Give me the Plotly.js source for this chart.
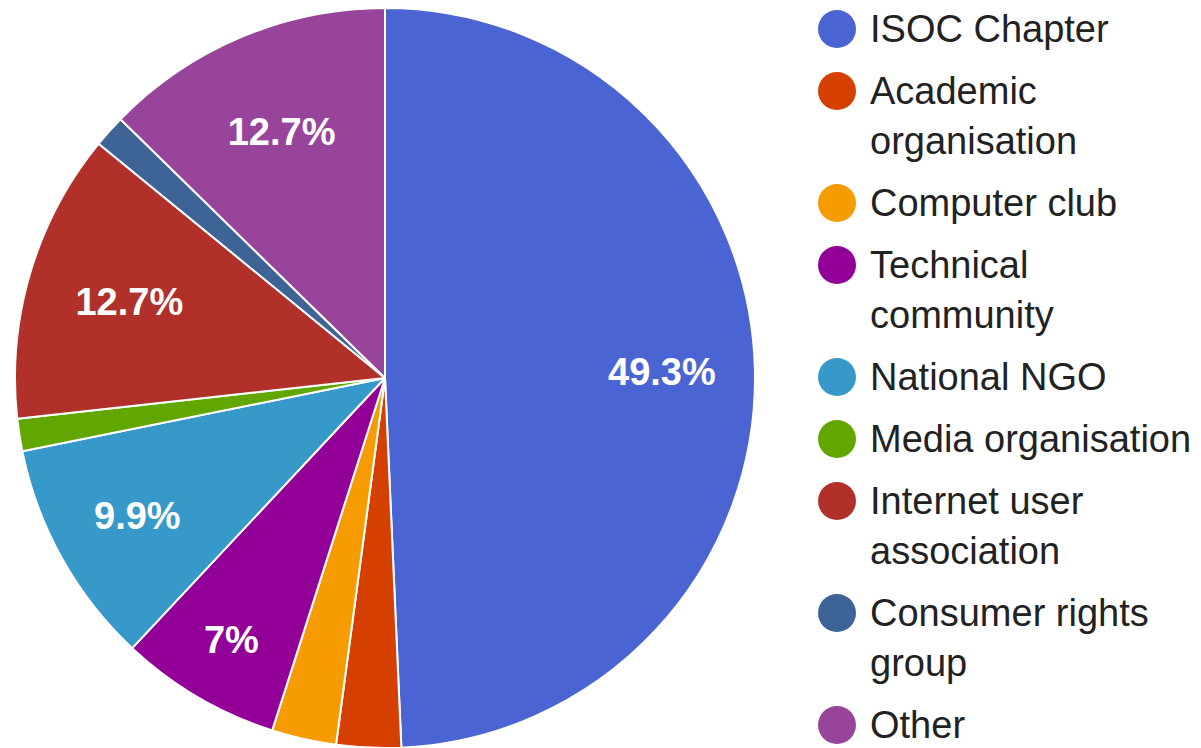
<!DOCTYPE html>
<html>
<head>
<meta charset="utf-8">
<script src="https://cdn.plot.ly/plotly-3.0.1.min.js"></script>
<style>html,body{margin:0;padding:0;background:#fff;}#chart{width:1201px;height:748px;}</style>
</head>
<body>
<div id="chart"></div>
<script>
var categories = ["ISOC Chapter", "Academic organisation", "Computer club", "Technical community", "National NGO", "Media organisation", "Internet user association", "Consumer rights group", "Other"];
var legendLines = [["ISOC Chapter"], ["Academic", "organisation"], ["Computer club"], ["Technical", "community"], ["National NGO"], ["Media organisation"], ["Internet user", "association"], ["Consumer rights", "group"], ["Other"]];
var counts = [35, 2, 2, 5, 7, 1, 9, 1, 9];
var colors = ["#4a65d3", "#d53f00", "#f69b00", "#930097", "#3699c9", "#62a700", "#b1312a", "#3d6397", "#98449b"];

var W = 1201, H = 748;
var PCX = 385, PCY = 378, PR = 370;
var FONT = "Liberation Sans, Arial, sans-serif";
var total = counts.reduce(function(a, b){ return a + b; }, 0);
var labelText = counts.map(function(v){
  var p = Math.round(v / total * 1000) / 10;
  if (p < 5) return "";
  return (p % 1 === 0 ? p.toFixed(0) : p.toFixed(1)) + "%";
});

var annotations = [];
// very large slices: place the label further out (as the reference does)
var cum = 0;
var texts = counts.map(function(v, i){
  var mid = (cum + v / 2) / total * 2 * Math.PI;
  cum += v;
  if (v / total > 0.4 && labelText[i]) {
    var rr = 0.75 * PR;
    annotations.push({
      xref: "paper", yref: "paper",
      x: (PCX + rr * Math.sin(mid)) / W,
      y: 1 - (PCY - rr * Math.cos(mid)) / H,
      xanchor: "center", yanchor: "middle", showarrow: false,
      text: "<b>" + labelText[i] + "</b>",
      font: { family: FONT, size: 38, color: "#ffffff" }
    });
    return "";
  }
  return labelText[i];
});

var trace = {
  type: "pie",
  labels: categories,
  values: counts,
  text: texts,
  textinfo: "text",
  textposition: "inside",
  insidetextorientation: "horizontal",
  sort: false,
  direction: "clockwise",
  rotation: 0,
  marker: { colors: colors, line: { color: "#ffffff", width: 2 } },
  textfont: { family: FONT, size: 38, color: "#ffffff", weight: "bold" },
  domain: { x: [(PCX - PR) / W, (PCX + PR) / W], y: [1 - (PCY + PR) / H, 1 - (PCY - PR) / H] },
  showlegend: false,
  hoverinfo: "label+percent"
};

// custom legend (circles + text) built from the category list
var shapes = [];
var cy = 29;
var lineH = 50, gap = 62, cx = 837, r = 19;
legendLines.forEach(function(lines, i){
  shapes.push({
    type: "circle", xref: "paper", yref: "paper",
    x0: (cx - r) / W, x1: (cx + r) / W,
    y0: 1 - (cy + r) / H, y1: 1 - (cy - r) / H,
    fillcolor: colors[i], line: { width: 0 }
  });
  lines.forEach(function(t, j){
    annotations.push({
      xref: "paper", yref: "paper",
      x: 868 / W, y: 1 - (cy + j * lineH) / H,
      xanchor: "left", yanchor: "middle",
      text: t, showarrow: false,
      font: { family: FONT, size: 38, color: "#222222" }
    });
  });
  cy += (lines.length - 1) * lineH + gap;
});

var layout = {
  width: W, height: H,
  margin: { l: 0, r: 0, t: 0, b: 0 },
  paper_bgcolor: "#ffffff",
  showlegend: false,
  shapes: shapes,
  annotations: annotations
};

Plotly.newPlot("chart", [trace], layout, { displayModeBar: false, staticPlot: true });
</script>
</body>
</html>
